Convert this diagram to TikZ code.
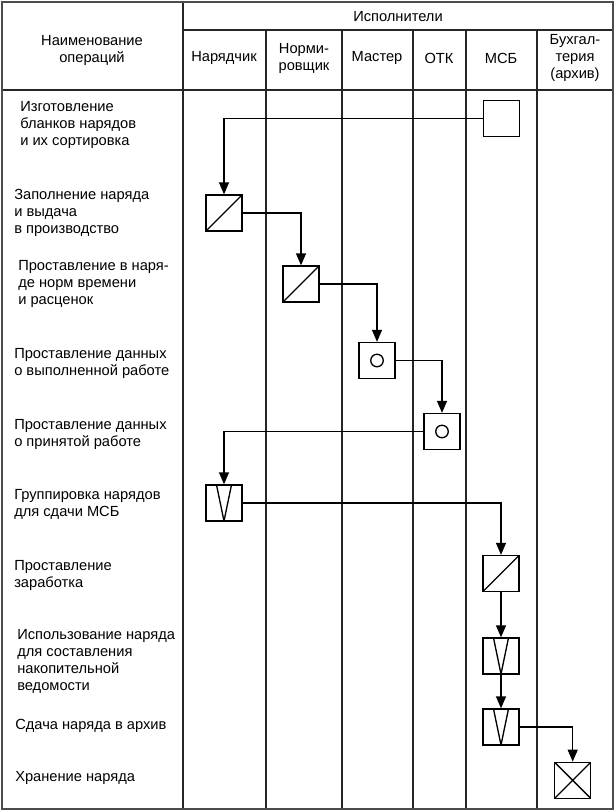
\documentclass[tikz,border=0pt]{standalone}
\usepackage{fontspec}
\setmainfont{Liberation Sans}
\usetikzlibrary{arrows.meta}
\begin{document}
\begin{tikzpicture}[x=0.75pt,y=-0.75pt,
  grid/.style={line width=1pt, black!85},
  frame/.style={line width=1.6pt, black!70},
  opbox/.style={draw, line width=1pt, minimum size=27pt, inner sep=0pt, fill=white},
  slashbox/.style={opbox, path picture={\draw[line width=1pt] (path picture bounding box.south west) -- (path picture bounding box.north east);}},
  circbox/.style={opbox, path picture={\draw[line width=1pt] (path picture bounding box.center) circle (4.7pt);}},
  vbox/.style={opbox, path picture={\draw[line width=1pt] ([xshift=-5.6pt]path picture bounding box.north) -- (path picture bounding box.south) -- ([xshift=5.6pt]path picture bounding box.north);}},
  xbox/.style={opbox, path picture={\draw[line width=1pt] (path picture bounding box.south west) -- (path picture bounding box.north east) (path picture bounding box.north west) -- (path picture bounding box.south east);}},
  arr/.style={line width=1pt, -{Triangle[length=9pt,width=7.5pt]}},
  lbl/.style={anchor=west, align=left, font=\fontsize{11}{12.75}\selectfont, inner sep=0pt},
  hdr/.style={align=center, font=\fontsize{11}{12.75}\selectfont, inner sep=0pt}]
\useasboundingbox (0,0) rectangle (615,811);
% grid
\draw[grid] (183,2) -- (183,809);
\draw[grid] (183,30) -- (613,30);
\draw[grid] (2,90) -- (613,90);
\foreach \x in {266,342,413,466,537} \draw[grid] (\x,30) -- (\x,809);
\draw[frame] (2,2) rectangle (613,809);
% headers
\node[hdr] (h0) at (92,50) {Наименование\\операций};
\node[hdr] (h1) at (398,17) {Исполнители};
\node[hdr] (c1) at (224,58) {Нарядчик};
\node[hdr] (c2) at (304,58) {Норми-\\ровщик};
\node[hdr] (c3) at (377,58) {Мастер};
\node[hdr] (c4) at (439,58) {ОТК};
\node[hdr] (c5) at (501,58) {МСБ};
\node[hdr] (c6) at (575,58) {Бухгал-\\терия\\(архив)};
% labels
\node[lbl] (l1) at (20,125) {Изготовление\\бланков нарядов\\и их сортировка};
\node[lbl] (l2) at (14,213) {Заполнение наряда\\и выдача\\в производство};
\node[lbl] (l3) at (18,284) {Проставление в наря-\\де норм времени\\и расценок};
\node[lbl] (l4) at (14,363) {Проставление данных\\о выполненной работе};
\node[lbl] (l5) at (14,434) {Проставление данных\\о принятой работе};
\node[lbl] (l6) at (14,504) {Группировка нарядов\\для сдачи МСБ};
\node[lbl] (l7) at (14,575) {Проставление\\заработка};
\node[lbl] (l8) at (17,661) {Использование наряда\\для составления\\накопительной\\ведомости};
\node[lbl] (l9) at (15,726) {Сдача наряда в архив};
\node[lbl] (l10) at (15,778) {Хранение наряда};
% boxes
\node[opbox]    (b1) at (501.5,118.5) {};
\node[slashbox] (b2) at (224,213) {};
\node[slashbox] (b3) at (301,284) {};
\node[circbox]  (b4) at (377,360.5) {};
\node[circbox]  (b5) at (442,431.5) {};
\node[vbox]     (b6) at (224,503) {};
\node[slashbox] (b7) at (501,573.5) {};
\node[vbox]     (b8) at (501,656) {};
\node[vbox]     (b9) at (501,727) {};
\node[xbox]     (b10) at (572.7,780.3) {};
% connectors
\draw[arr] (b1.west) -| (b2.north);
\draw[arr] (b2.east) -| (b3.north);
\draw[arr] (b3.east) -| (b4.north);
\draw[arr] (b4.east) -| (b5.north);
\draw[arr] (b5.west) -| (b6.north);
\draw[arr] (b6.east) -| (b7.north);
\draw[arr] (b7.south) -- (b8.north);
\draw[arr] (b8.south) -- (b9.north);
\draw[arr] (b9.east) -| (b10.north);
\end{tikzpicture}
\end{document}
